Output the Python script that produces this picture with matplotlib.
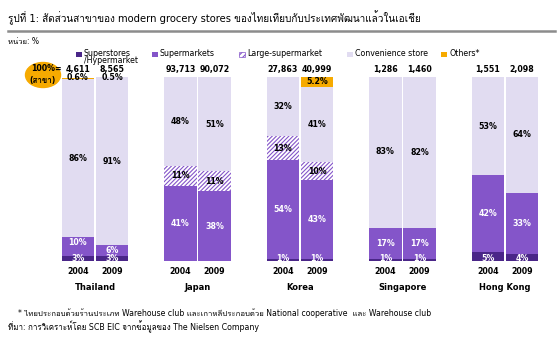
import matplotlib
matplotlib.use("Agg")
import matplotlib.pyplot as plt
from matplotlib.patches import Ellipse, Rectangle
from matplotlib.lines import Line2D
import numpy as np

plt.rcParams['font.family'] = ['DejaVu Sans', 'Loma', 'Noto Sans Thai']
plt.rcParams['hatch.linewidth'] = 0.8

countries = ['Thailand', 'Japan', 'Korea', 'Singapore', 'Hong Kong']
years = ['2004', '2009']

# store counts (100% base), per country: [2004, 2009]
totals = [['4,611', '8,565'], ['93,713', '90,072'], ['27,863', '40,999'],
          ['1,286', '1,460'], ['1,551', '2,098']]

# shares in %, order: Thailand 04/09, Japan 04/09, Korea 04/09, Singapore 04/09, Hong Kong 04/09
hyper = [3, 3, 0, 0, 1, 1, 1, 1, 5, 4]
supermarket = [10, 6, 41, 38, 54, 43, 17, 17, 42, 33]
large_super = [0, 0, 11, 11, 13, 10, 0, 0, 0, 0]
convenience = [86, 91, 48, 51, 32, 41, 83, 82, 53, 64]
others = [0.6, 0.5, 0, 0, 0, 5.2, 0, 0, 0, 0]

legend_labels = ['Superstores\n/Hypermarket', 'Supermarkets', 'Large-supermarket',
                 'Convenience store', 'Others*']

c_hyper = '#4a2688'
c_super = '#8455c9'
c_conv = '#e1dcf1'
c_other = '#f6aa00'
HATCH = '////////'

W, H = 560, 342


def fx(px):
    return px / W


def fy(py):
    return 1 - py / H


fig = plt.figure(figsize=(5.6, 3.42), dpi=100)
ax = fig.add_axes([0, fy(261.3), 1, 184 / H])
ax.set_xlim(-95 / 102.5, (W - 95) / 102.5)
ax.set_ylim(0, 100)
ax.axis('off')

width = 0.317
offset = 0.167
x = np.array([g + s * offset for g in range(len(countries)) for s in (-1, 1)])

hyper = np.array(hyper, float)
supermarket = np.array(supermarket, float)
large_super = np.array(large_super, float)
convenience = np.array(convenience, float)
others = np.array(others, float)

b1 = hyper
b2 = b1 + supermarket
b3 = b2 + large_super
b4 = b3 + convenience

ax.bar(x, hyper, width, color=c_hyper, linewidth=0)
ax.bar(x, supermarket, width, bottom=b1, color=c_super, linewidth=0)
ax.bar(x, large_super, width, bottom=b2, color='white', edgecolor=c_super,
       hatch=HATCH, linewidth=0)
ax.bar(x, convenience, width, bottom=b3, color=c_conv, linewidth=0)
ax.bar(x, others, width, bottom=b4, color=c_other, linewidth=0)

fs = 5.7
lab = dict(ha='center', va='center', fontsize=fs, fontweight='bold')
for i, xi in enumerate(x):
    if hyper[i] > 0:
        ax.text(xi, 1.7, f'{hyper[i]:g}%', color='white', **lab)
    if supermarket[i] > 0:
        # thin segments: keep the label clear of the hyper label below
        ys = b1[i] + supermarket[i] / 2
        if supermarket[i] < 12:
            ys = b2[i] - 3.0
        ax.text(xi, ys, f'{supermarket[i]:g}%', color='white', **lab)
    if large_super[i] > 0:
        ax.text(xi, b2[i] + large_super[i] / 2, f'{large_super[i]:g}%', color='black', **lab)
    ax.text(xi, b3[i] + convenience[i] / 2, f'{convenience[i]:g}%', color='black', **lab)
    if others[i] >= 1:
        ax.text(xi, b4[i] + others[i] / 2, f'{others[i]:g}%', color='black', **lab)
    elif others[i] > 0:
        ax.text(xi, 99.8, f'{others[i]:g}%', color='black', clip_on=False, **lab)
    ax.text(xi, 104.0, totals[i // 2][i % 2], color='black', clip_on=False, **lab)
    ax.text(xi, -5.4, years[i % 2], color='black', clip_on=False, **lab)

for g, name in enumerate(countries):
    ax.text(g, -14.1, name, ha='center', va='center', fontsize=6,
            fontweight='bold', clip_on=False)

# title and rule
fig.text(fx(8), fy(18), 'รูปที่ 1: สัดส่วนสาขาของ modern grocery stores ของไทยเทียบกับประเทศพัฒนาแล้วในเอเชีย',
         fontsize=7.2, va='center', ha='left')
fig.add_artist(Line2D([fx(8), fx(555)], [fy(31)] * 2, color='#8c8c8c', lw=1.8))
fig.text(fx(8), fy(42), 'หน่วย: %', fontsize=5.5, va='center', ha='left')

# legend
legend_faces = [c_hyper, c_super, 'white', c_conv, c_other]
legend_x = [76, 152, 239, 347, 441]
for j, (lx, face, text) in enumerate(zip(legend_x, legend_faces, legend_labels)):
    fig.add_artist(Rectangle((fx(lx), fy(56.5)), fx(6), 5 / H, transform=fig.transFigure,
                             facecolor=face, edgecolor=c_super if j == 2 else 'none',
                             hatch='//////' if j == 2 else None, linewidth=0.5))
    fig.text(fx(lx + 8), fy(49), text, fontsize=fs, va='top', ha='left',
             linespacing=0.75)

# 100% badge
fig.add_artist(Ellipse((fx(43), fy(75)), fx(35), 25 / H, color=c_other,
                       transform=fig.transFigure))
fig.text(fx(46), fy(68.5), '100%=', fontsize=fs, fontweight='bold',
         ha='center', va='center')
fig.text(fx(42), fy(80), '(สาขา)', fontsize=fs, fontweight='bold',
         ha='center', va='center')

fig.text(fx(18), fy(313),
         '* ไทยประกอบด้วยร้านประเภท Warehouse club และเกาหลีประกอบด้วย National cooperative  และ Warehouse club',
         fontsize=5.6, va='center', ha='left')
fig.text(fx(8), fy(327),
         'ที่มา: การวิเคราะห์โดย SCB EIC จากข้อมูลของ The Nielsen Company',
         fontsize=5.7, va='center', ha='left')

fig.savefig('out.png', dpi=100)
